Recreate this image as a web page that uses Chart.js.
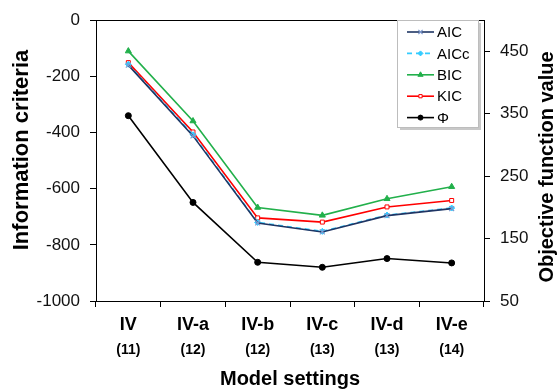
<!DOCTYPE html>
<html>
<head>
<meta charset="utf-8">
<script src="https://cdn.jsdelivr.net/npm/chart.js@4.4.1/dist/chart.umd.min.js"></script>
<style>
  body { margin: 0; background: #fff; }
  #chart { display: block; }
</style>
</head>
<body>
<canvas id="chart" width="558" height="391"></canvas>
<script>
// values
var settings = ['IV', 'IV-a', 'IV-b', 'IV-c', 'IV-d', 'IV-e'];
var paramCounts = ['(11)', '(12)', '(12)', '(13)', '(13)', '(14)'];
var aic = [-160, -412, -722, -754, -696, -671];
var aicc = [-157, -408, -720, -752, -694, -669];
var bic = [-110, -359, -667, -695, -636, -593];
var kic = [-151, -398, -704, -719, -665, -642];
var phi = [347, 208, 112, 104, 118, 111];
var rightTicks = [50, 150, 250, 350, 450];

var FONT = "'Liberation Sans', Arial, sans-serif";

// legend box drawn inside the plot, top right
var boxLegend = {
    id: 'boxLegend',
    afterDraw: function (chart) {
        var ctx = chart.ctx;
        var x0 = 397, y0 = 20, w = 81, h = 107;
        ctx.save();
        ctx.fillStyle = '#c8c8c8';
        ctx.fillRect(x0 + 3, y0 + 3, w, h);
        ctx.fillStyle = '#fff';
        ctx.fillRect(x0, y0, w, h);
        ctx.strokeStyle = '#bdbdbd';
        ctx.lineWidth = 1;
        ctx.strokeRect(x0 + 0.5, y0 + 0.5, w, h);

        chart.data.datasets.forEach(function (ds, i) {
            var y = 32 + i * 21.4;
            ctx.beginPath();
            ctx.setLineDash(ds.borderDash || []);
            ctx.strokeStyle = ds.borderColor;
            ctx.lineWidth = ds.borderWidth;
            ctx.moveTo(407, y);
            ctx.lineTo(434, y);
            ctx.stroke();
            ctx.setLineDash([]);
            ctx.fillStyle = ds.pointBackgroundColor;
            ctx.strokeStyle = ds.pointBorderColor;
            ctx.lineWidth = ds.pointBorderWidth;
            Chart.helpers.drawPoint(ctx, {
                pointStyle: ds.pointStyle,
                radius: ds.pointRadius - 0.5,
                borderWidth: ds.pointBorderWidth,
                rotation: 0
            }, 420.5, y);
            ctx.fillStyle = '#000';
            ctx.font = '15px ' + FONT;
            ctx.textBaseline = 'middle';
            ctx.textAlign = 'left';
            ctx.fillText(ds.label, 437, y + 1);
        });
        ctx.restore();
    }
};

// frame around the plot and the two rotated y titles
var frameAndTitles = {
    id: 'frameAndTitles',
    afterDraw: function (chart) {
        var ctx = chart.ctx;
        var a = chart.chartArea;
        ctx.save();
        ctx.strokeStyle = '#000';
        ctx.lineWidth = 1;
        ctx.beginPath();
        ctx.moveTo(Math.round(a.left) + 0.5, Math.round(a.top) + 0.5);
        ctx.lineTo(Math.round(a.right) + 0.5, Math.round(a.top) + 0.5);
        ctx.stroke();

        ctx.fillStyle = '#000';
        ctx.textAlign = 'center';
        ctx.textBaseline = 'middle';
        ctx.font = 'bold 22px ' + FONT;
        ctx.translate(22, 150);
        ctx.rotate(-Math.PI / 2);
        ctx.fillText('Information criteria', 0, 0);
        ctx.restore();

        ctx.save();
        ctx.fillStyle = '#000';
        ctx.textAlign = 'center';
        ctx.textBaseline = 'middle';
        ctx.font = 'bold 20px ' + FONT;
        ctx.translate(547, 167);
        ctx.rotate(-Math.PI / 2);
        ctx.fillText('Objective function value', 0, 0);
        ctx.restore();
    }
};

var ctx = document.getElementById('chart');
var chart = new Chart(ctx, {
    type: 'line',
    data: {
        labels: settings,
        datasets: [{
            label: 'AIC',
            data: aic,
            yAxisID: 'y',
            borderColor: '#1f3564',
            borderWidth: 1.6,
            pointStyle: 'crossRot',
            pointRadius: 3.5,
            pointBorderWidth: 1.2,
            pointBackgroundColor: '#7f9ad0',
            pointBorderColor: '#7f9ad0'
        }, {
            label: 'AICc',
            data: aicc,
            yAxisID: 'y',
            borderColor: '#33ccff',
            borderWidth: 1.6,
            borderDash: [5, 4],
            pointStyle: 'rectRot',
            pointRadius: 3,
            pointBorderWidth: 1,
            pointBackgroundColor: '#33ccff',
            pointBorderColor: '#33ccff'
        }, {
            label: 'BIC',
            data: bic,
            yAxisID: 'y',
            borderColor: '#22b04b',
            borderWidth: 1.6,
            pointStyle: 'triangle',
            pointRadius: 3.5,
            pointBorderWidth: 1,
            pointBackgroundColor: '#22b04b',
            pointBorderColor: '#22b04b'
        }, {
            label: 'KIC',
            data: kic,
            yAxisID: 'y',
            borderColor: '#ff0000',
            borderWidth: 1.6,
            pointStyle: 'rect',
            pointRadius: 2.8,
            pointBorderWidth: 1,
            pointBackgroundColor: '#ffffff',
            pointBorderColor: '#ff0000'
        }, {
            label: 'Φ',
            data: phi,
            yAxisID: 'y2',
            borderColor: '#000000',
            borderWidth: 1.6,
            pointStyle: 'circle',
            pointRadius: 3,
            pointBorderWidth: 1,
            pointBackgroundColor: '#000000',
            pointBorderColor: '#000000'
        }]
    },
    options: {
        responsive: false,
        animation: false,
        layout: { padding: { top: 16, left: 0, right: 0, bottom: 0 } },
        plugins: {
            legend: { display: false },
            tooltip: { enabled: false }
        },
        elements: { line: { tension: 0 } },
        scales: {
            x: {
                position: 'bottom',
                weight: 0,
                offset: true,
                grid: { offset: true, drawOnChartArea: false, tickLength: 6, color: '#000' },
                border: { color: '#000' },
                ticks: { color: '#000', padding: 7, font: { family: FONT, size: 18, weight: 'bold' } },
                afterFit: function (scale) { scale.height = 36; }
            },
            x2: {
                type: 'category',
                labels: paramCounts,
                position: 'bottom',
                weight: 1,
                offset: true,
                grid: { display: false, drawTicks: false },
                border: { display: false },
                ticks: { color: '#000', padding: 5, font: { family: FONT, size: 14, weight: 'bold' } },
                title: {
                    display: true,
                    text: 'Model settings',
                    color: '#000',
                    padding: { top: 0, bottom: 0 },
                    font: { family: FONT, size: 20, weight: 'bold' }
                },
                afterFit: function (scale) { scale.height = 54; }
            },
            y: {
                position: 'left',
                min: -1000,
                max: 0,
                ticks: {
                    stepSize: 200,
                    color: '#111',
                    padding: 10,
                    font: { family: FONT, size: 17 },
                    callback: function (v) { return String(v); }
                },
                grid: { drawOnChartArea: false, tickLength: 6, color: '#000' },
                border: { color: '#000' },
                afterFit: function (scale) { scale.width = 96; }
            },
            y2: {
                position: 'right',
                min: 50,
                max: 500,
                ticks: {
                    color: '#111',
                    padding: 10,
                    font: { family: FONT, size: 17 },
                    callback: function (v) { return String(v); }
                },
                afterBuildTicks: function (scale) {
                    scale.ticks = rightTicks.map(function (v) { return { value: v }; });
                },
                grid: { drawOnChartArea: false, tickLength: 6, color: '#000' },
                border: { color: '#000' },
                afterFit: function (scale) { scale.width = 74; }
            }
        }
    },
    plugins: [frameAndTitles, boxLegend]
});
</script>
</body>
</html>
